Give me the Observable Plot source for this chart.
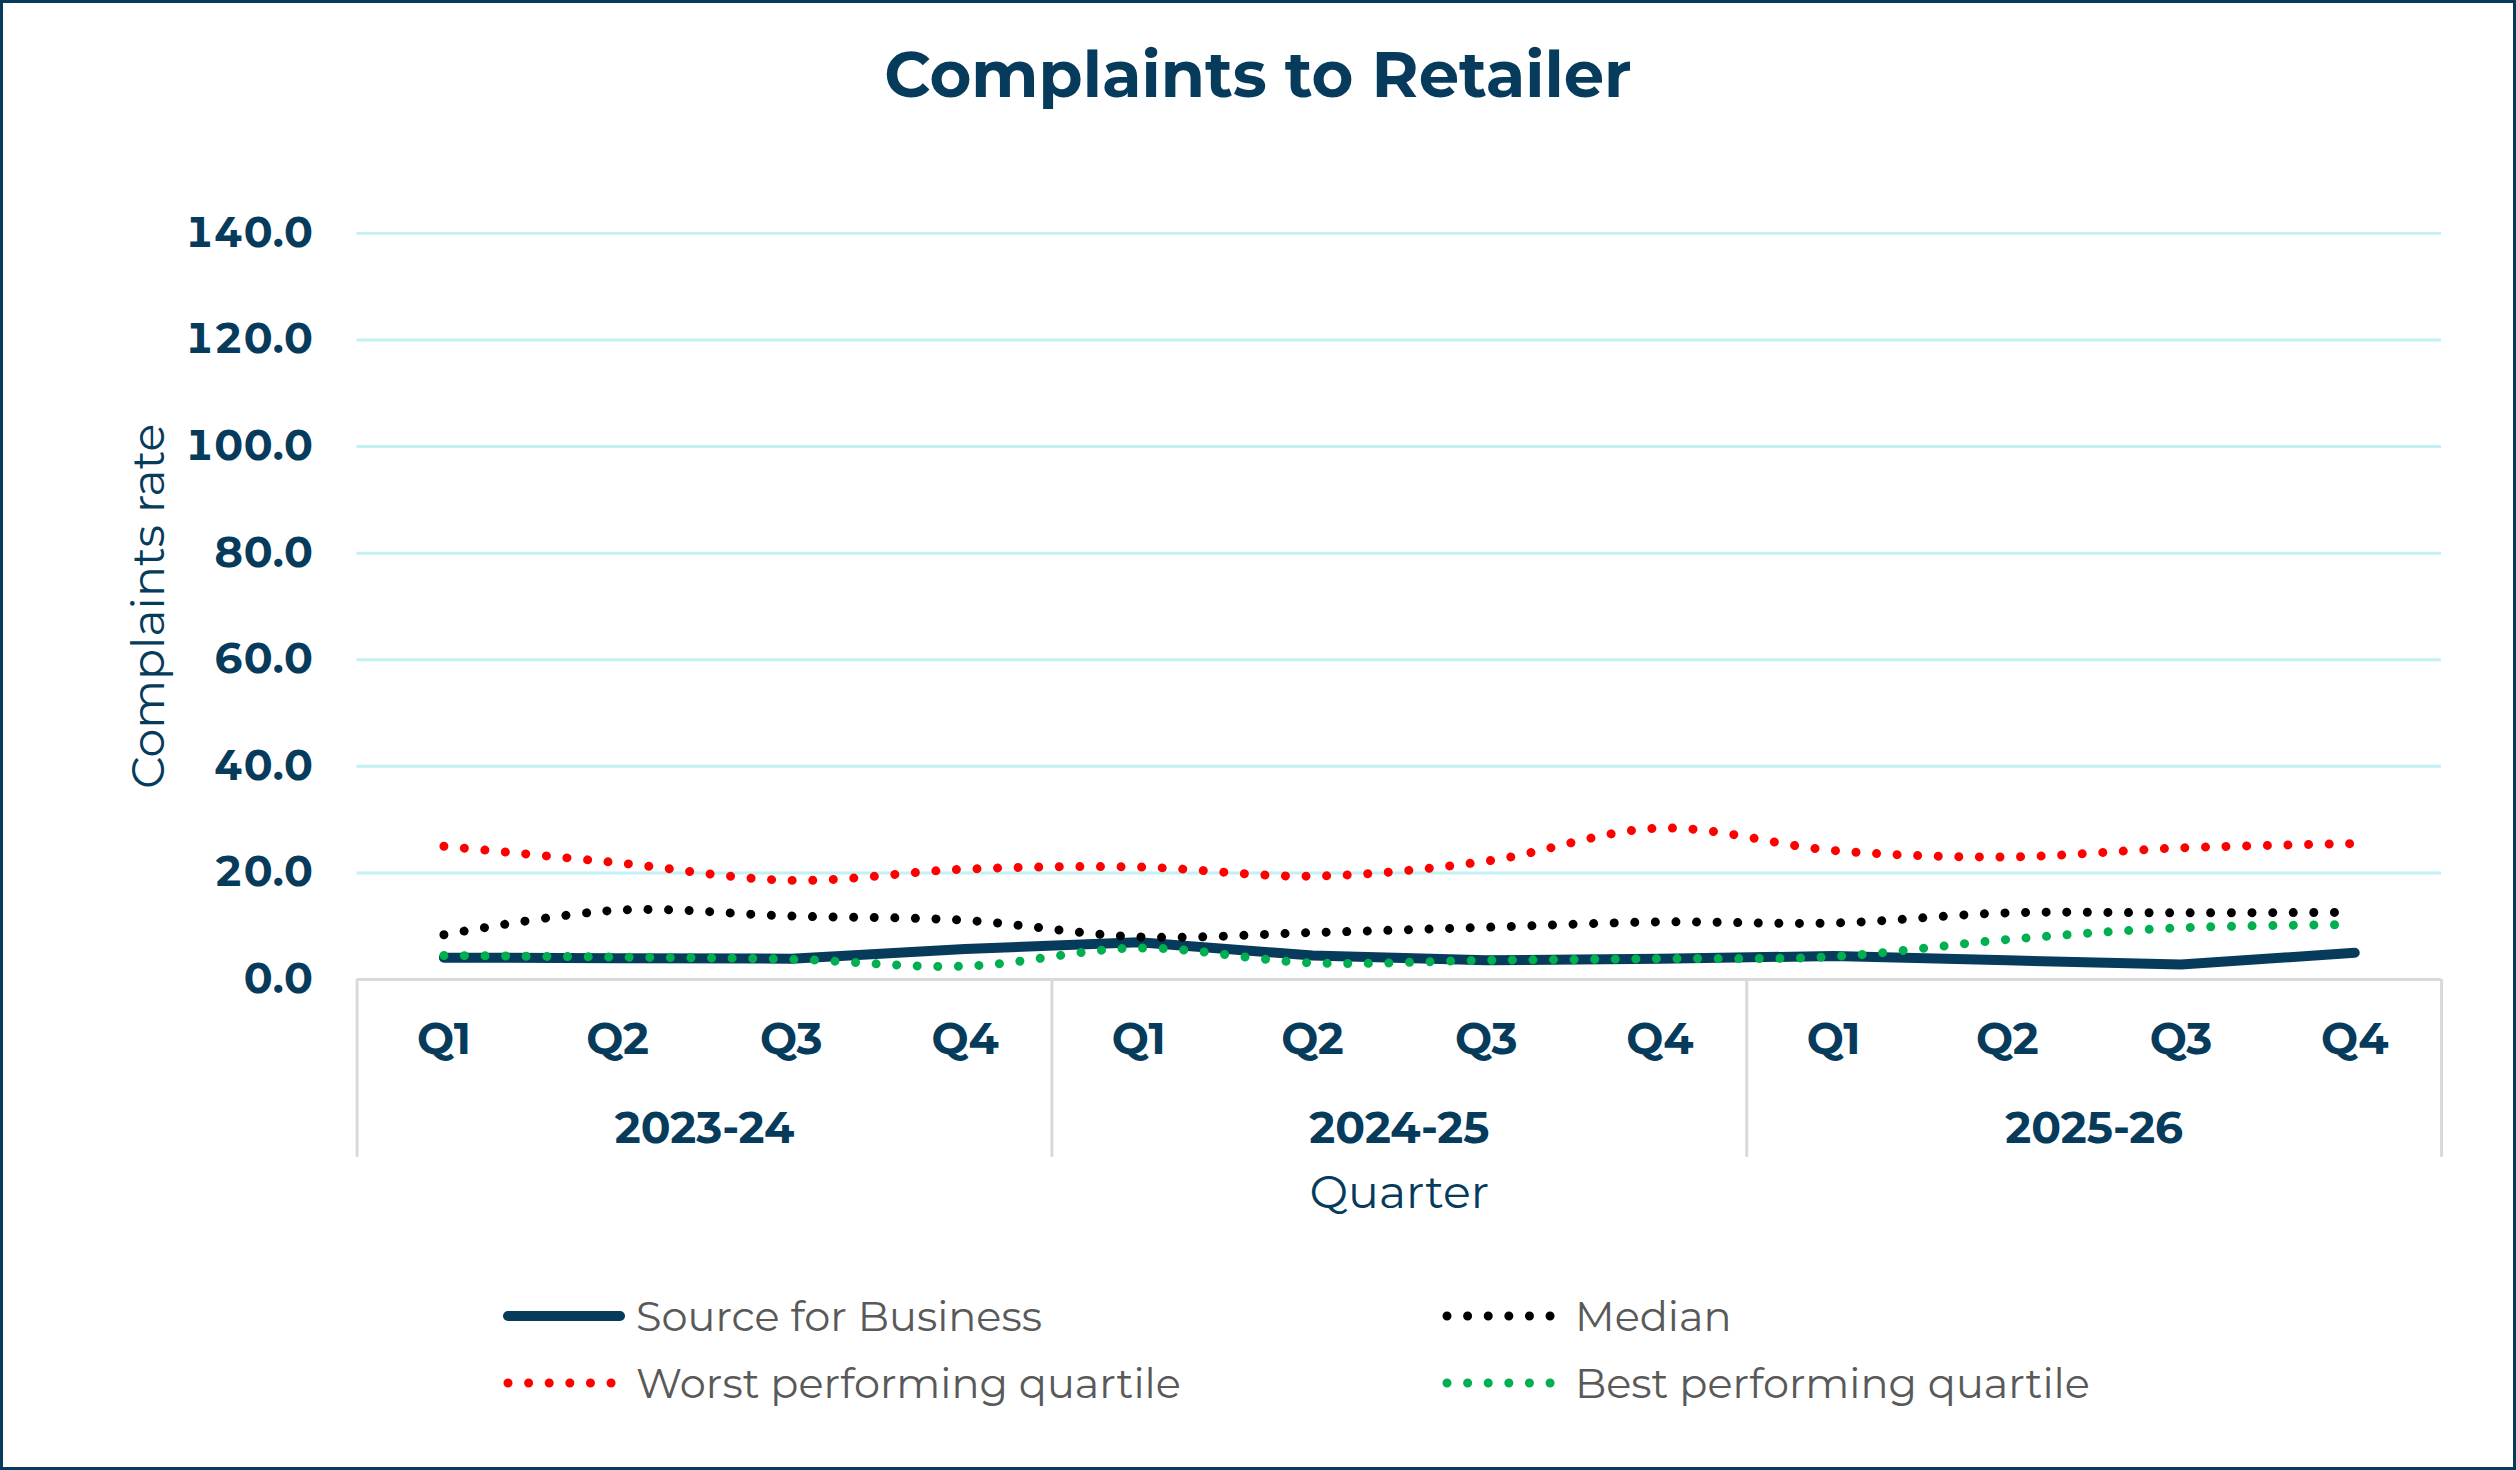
<!DOCTYPE html>
<html>
<head>
<meta charset="utf-8">
<script src="https://cdn.jsdelivr.net/npm/d3@7"></script>
<script src="https://cdn.jsdelivr.net/npm/@observablehq/plot@0.6"></script>
<style>
  html, body { margin: 0; padding: 0; background: #ffffff; }
  #frame { position: relative; width: 2516px; height: 1470px; box-sizing: border-box;
           border: 3px solid #063b5c; background: #fff; overflow: hidden;
           font-family: Montserrat, "Open Sans", sans-serif; }
  #title { position: absolute; left: 0; right: 0; top: 29px; text-align: center;
           font-size: 64px; font-weight: 700; color: #063b5c; line-height: 84px; }
  #chart { position: absolute; left: -3px; top: 127px; }
  .leg { position: absolute; display: flex; align-items: center; font-size: 41.5px; color: #595959; }
  .leg svg { margin-right: 10px; }
</style>
</head>
<body>
<div id="frame">
  <div id="title">Complaints to Retailer</div>
  <div id="chart"></div>
  <div id="legend"></div>
</div>
<script>
const years = ["2023-24", "2024-25", "2025-26"];
const quarters = ["Q1", "Q2", "Q3", "Q4"];
const yTicks = [0, 20, 40, 60, 80, 100, 120, 140];

const sourceForBusiness = [4.1, 4.0, 3.9, 5.7, 7.0, 4.5, 3.6, 3.9, 4.4, 3.6, 2.8, 5.0];
const median            = [8.4, 13.0, 11.9, 11.1, 8.0, 8.8, 9.8, 10.8, 10.6, 12.5, 12.5, 12.6];
const worstQuartile     = [25.0, 21.9, 18.6, 20.7, 21.1, 19.4, 22.2, 28.4, 24.2, 23.0, 24.7, 25.5];
const bestQuartile      = [4.5, 4.2, 3.8, 2.5, 5.9, 3.1, 3.6, 3.9, 4.3, 7.5, 9.7, 10.3];

const NAVY = "#063b5c";
const FONT = 'Montserrat, "Open Sans", sans-serif';

// category table
const cats = [];
years.forEach((y, yi) => quarters.forEach((q, qi) => cats.push({i: yi * 4 + qi, year: y, q})));
const toRows = (arr) => arr.map((v, i) => ({i, v}));
const separators = d3.range(years.length + 1).map(k => k * quarters.length - 0.5);

const dotted = (arr, color) => Plot.line(toRows(arr), {
  x: "i", y: "v", curve: "catmull-rom", stroke: color, strokeWidth: 9,
  strokeDasharray: "0.01 20.6", strokeLinecap: "round"
});

const chart = Plot.plot({
  width: 2516, height: 1110,
  marginTop: 103, marginBottom: 260, marginLeft: 357, marginRight: 72,
  style: {fontFamily: FONT, background: "transparent", overflow: "visible"},
  x: {type: "linear", domain: [-0.5, 11.5], axis: null},
  y: {domain: [0, 140], axis: null},
  marks: [
    Plot.gridY(yTicks.filter(d => d > 0), {stroke: "#c2f0f3", strokeOpacity: 1, strokeWidth: 3}),
    Plot.axisX(separators, {tickSize: 178, stroke: "#d9d9d9", strokeWidth: 3, strokeOpacity: 1,
                            tickFormat: () => "", label: null}),
    Plot.ruleY([0], {stroke: "#d9d9d9", strokeWidth: 3}),
    Plot.axisY(yTicks, {tickSize: 0, tickPadding: 44, tickFormat: d3.format(".1f"),
                        fontSize: 42, fontWeight: 700, fill: NAVY, label: null}),
    Plot.text(cats, {x: "i", text: "q", frameAnchor: "bottom", dy: 75,
                     fontSize: 44, fontWeight: 700, fill: NAVY}),
    Plot.text(years, {x: (d, i) => i * quarters.length + (quarters.length - 1) / 2, text: d => d,
                      frameAnchor: "bottom", dy: 164, fontSize: 44, fontWeight: 700, fill: NAVY}),
    Plot.text(["Quarter"], {text: d => d, frameAnchor: "bottom", dy: 229, fontSize: 46, fill: NAVY}),
    Plot.text(["Complaints rate"], {text: d => d, frameAnchor: "left", textAnchor: "middle",
                                    dx: -208, rotate: -90, fontSize: 46, fill: NAVY}),
    Plot.line(toRows(sourceForBusiness), {x: "i", y: "v", stroke: NAVY, strokeWidth: 10,
                                          strokeLinecap: "round", strokeLinejoin: "round"}),
    dotted(worstQuartile, "#ff0000"),
    dotted(median, "#000000"),
    dotted(bestQuartile, "#00b050")
  ]
});
document.getElementById("chart").appendChild(chart);

// legend
const legendItems = [
  {label: "Source for Business", color: NAVY, solid: true, left: 499, top: 1316},
  {label: "Median", color: "#000000", solid: false, left: 1438, top: 1316},
  {label: "Worst performing quartile", color: "#ff0000", solid: false, left: 499, top: 1383},
  {label: "Best performing quartile", color: "#00b050", solid: false, left: 1438, top: 1383}
];
const leg = document.getElementById("legend");
legendItems.forEach(it => {
  const d = document.createElement("div");
  d.className = "leg";
  d.style.left = it.left + "px";
  d.style.top = (it.top - 30 - 3) + "px";
  d.style.height = "60px";
  const sw = it.solid
    ? `<svg width="124" height="20"><line x1="6" y1="10" x2="118" y2="10" stroke="${it.color}" stroke-width="10" stroke-linecap="round"/></svg>`
    : `<svg width="124" height="20"><line x1="6" y1="10" x2="112" y2="10" stroke="${it.color}" stroke-width="9" stroke-dasharray="0.01 20.6" stroke-linecap="round"/></svg>`;
  d.innerHTML = sw + `<span>${it.label}</span>`;
  leg.appendChild(d);
});
</script>
</body>
</html>
